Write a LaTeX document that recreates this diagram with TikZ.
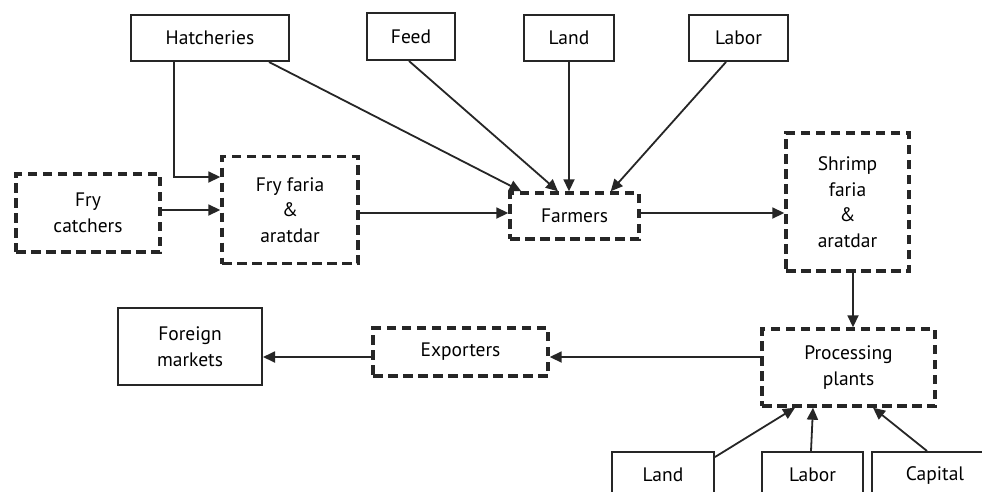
\documentclass[tikz,border=0pt]{standalone}
\usepackage{fontspec}
\setmainfont{PT Sans}
\usetikzlibrary{arrows.meta,calc}
\begin{document}
\begin{tikzpicture}[x=1pt,y=-1pt,
  solidbox/.style={draw=black!85,line width=2pt,inner sep=0pt,align=center,
    font=\fontsize{19.5}{25.5}\selectfont},
  dashbox/.style={draw=black!85,line width=3.4pt,dash pattern=on 9.5pt off 5.5pt,inner sep=0pt,align=center,
    font=\fontsize{19.5}{25.5}\selectfont},
  arr/.style={draw=black!85,line width=1.8pt,-{Triangle[length=12pt,width=11pt]}}]
\clip (0,0) rectangle (982,491);
\fill[white] (0,0) rectangle (982,491);
% top inputs
\node[solidbox,minimum width=158pt,minimum height=46pt] (hatch) at (210,38) {Hatcheries};
\node[solidbox,minimum width=88pt,minimum height=47pt] (feed) at (411,36.5) {Feed};
\node[solidbox,minimum width=90pt,minimum height=46pt] (land) at (569,38) {Land};
\node[solidbox,minimum width=99pt,minimum height=46pt] (labor) at (738.5,38) {Labor};
% middle row
\node[dashbox,minimum width=144pt,minimum height=78pt] (frycatch) at (88,213) {Fry\\catchers};
\node[dashbox,minimum width=136pt,minimum height=107pt] (fryfaria) at (290,210) {Fry faria\\\&\\aratdar};
\node[dashbox,minimum width=129pt,minimum height=46pt] (farmers) at (574.5,216) {Farmers};
\node[dashbox,minimum width=123pt,minimum height=138pt] (shrimp) at (847.5,202) {Shrimp\\faria\\\&\\aratdar};
% lower row
\node[solidbox,minimum width=144pt,minimum height=77pt] (foreign) at (190,346.5) {Foreign\\markets};
\node[dashbox,minimum width=175pt,minimum height=48pt] (exporters) at (460.5,352) {Exporters};
\node[dashbox,minimum width=173pt,minimum height=77pt] (processing) at (848.5,367.5) {Processing\\plants};
% bottom inputs (cut by the frame)
\node[solidbox,minimum width=102pt,minimum height=46pt] (land2) at (663,475) {Land};
\node[solidbox,minimum width=101pt,minimum height=46pt] (labor2) at (812.5,475) {Labor};
\node[solidbox,minimum width=126pt,minimum height=46pt] (capital) at (935,475) {Capital};
% connectors
\draw[arr] ([xshift=-36pt]hatch.south) |- ([yshift=33pt]fryfaria.west);
\draw[arr] (frycatch.east |- fryfaria.west) -- (fryfaria.west);
\draw[arr] ([yshift=3pt]fryfaria.east |- farmers.west) -- ([yshift=3pt]farmers.west);
\draw[arr] ([xshift=-21pt]hatch.south east) -- ([xshift=13pt]farmers.north west);
\draw[arr] ([xshift=-2pt]feed.south) -- ([xshift=-16.5pt]farmers.north);
\draw[arr] (land.south) -- (land.south |- farmers.north);
\draw[arr] ([xshift=-12.5pt]labor.south) -- ([xshift=-30pt]farmers.north east);
\draw[arr] ([yshift=3pt]farmers.east) -- ([yshift=3pt]farmers.east -| shrimp.west);
\draw[arr] ([xshift=5.5pt]shrimp.south) -- ([xshift=5.5pt]shrimp.south |- processing.north);
\draw[arr] ([yshift=10.5pt]processing.west) -- ([yshift=10.5pt]processing.west -| exporters.east);
\draw[arr] ([yshift=-5pt]exporters.west) -- ([yshift=-5pt]exporters.west -| foreign.east);
\draw[arr] ([yshift=-6pt]land2.north east) -- ([xshift=-53.5pt]processing.south);
\draw[arr] ([xshift=-1.5pt]labor2.north) -- ([xshift=-35.5pt]processing.south);
\draw[arr] ([xshift=-8pt]capital.north) -- ([xshift=24.5pt]processing.south);
\end{tikzpicture}
\end{document}
